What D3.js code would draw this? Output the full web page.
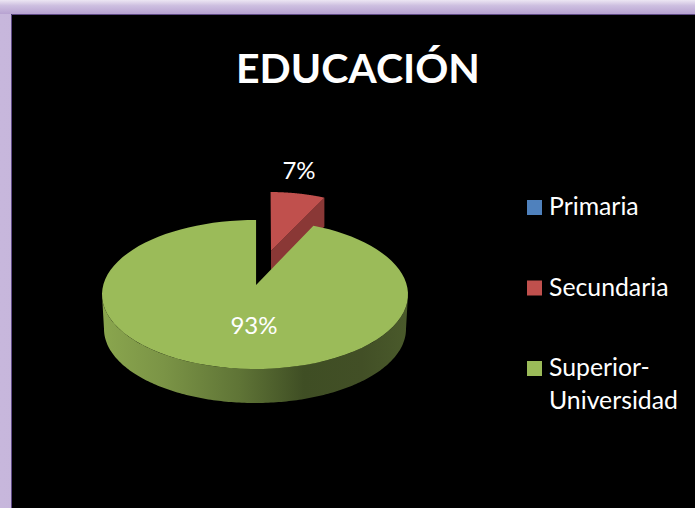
<!DOCTYPE html>
<html><head><meta charset="utf-8">
<script src="https://cdn.jsdelivr.net/npm/d3@7"></script>
<style>html,body{margin:0;padding:0;background:#000;overflow:hidden}svg{display:block}text{font-family:Lato,"Open Sans",sans-serif;fill:#fff}</style>
</head><body><svg id="c" width="695" height="508"></svg>
<script>
const chartTitle = "EDUCACIÓN";
const categories = ["Primaria", "Secundaria", "Superior-Universidad"];
const legendLines = [["Primaria"], ["Secundaria"], ["Superior-", "Universidad"]];
const values = [0, 7, 93];
const colors = ["#4f81bd", "#c0504d", "#9bbb59"];
const darkRed = "#8a3836";

const svg = d3.select("#c");
const defs = svg.append("defs");

// frame
const gTop = defs.append("linearGradient").attr("id","ft").attr("x1",0).attr("x2",0).attr("y1",0).attr("y2",1);
[[0,"#ece6f3"],[0.4,"#cdbfe0"],[1,"#b7a2d1"]].forEach(s=>gTop.append("stop").attr("offset",s[0]).attr("stop-color",s[1]));
const gLeft = defs.append("linearGradient").attr("id","fl").attr("x1",0).attr("x2",1).attr("y1",0).attr("y2",0);
[[0,"#c7b7dc"],[1,"#b49dcf"]].forEach(s=>gLeft.append("stop").attr("offset",s[0]).attr("stop-color",s[1]));
svg.append("rect").attr("width",695).attr("height",508).attr("fill","url(#fl)");
svg.append("rect").attr("width",695).attr("height",14).attr("fill","url(#ft)");
svg.append("rect").attr("x",11).attr("y",14).attr("width",684).attr("height",494).attr("fill","#000");
svg.append("path").attr("d","M11.5,508V14.5H695").attr("fill","none").attr("stroke","#5f4a86").attr("stroke-width",1);

// pie geometry
const x = d3.scaleLinear().domain([-1,1]).range([102,408]);
const y = d3.scaleLinear().domain([-1,1]).range([369,220]);
const arcs = d3.pie().sort(null).value(d=>d)(values);
const apex = {x:0.007, y:0.128};          // perspective vanishing point of the main slice
const redShift = {x0:14.5, x1:11, y:-28};
const redApex = [271,251];

// point on the rim for a true pie angle: ray from apex meets unit circle
function rim(a){
  const dx = Math.sin(a), dy = Math.cos(a);
  const A = dx*dx+dy*dy, b = apex.x*dx+apex.y*dy, c = apex.x*apex.x+apex.y*apex.y-1;
  const t = (-b+Math.sqrt(b*b-A*c))/A;
  return [apex.x+t*dx, apex.y+t*dy];
}
function rimPath(a0,a1){
  const n=90;
  return d3.range(n+1).map(i=>{const p=rim(a0+(a1-a0)*i/n); return [x(p[0]),y(p[1])];});
}
const line = d3.line();

// side of the main slice
const side = defs.append("linearGradient").attr("id","side").attr("gradientUnits","userSpaceOnUse")
  .attr("x1",x(-1)).attr("x2",x(1)).attr("y1",0).attr("y2",0);
[[0,"#8aa64e"],[0.2,"#7b9446"],[0.45,"#5f7436"],[0.66,"#3f4e24"],[0.85,"#424f26"],[1,"#4a5a2b"]]
  .forEach(s=>side.append("stop").attr("offset",s[0]).attr("stop-color",s[1]));
const xB = d3.scaleLinear().domain([-1,1]).range([104,406]);
const yB = d3.scaleLinear().domain([-1,1]).range([403,255]);
const front = d3.range(0,181).map(d=>d*Math.PI/180);
const topEdge = front.map(t=>[x(Math.cos(t)),y(-Math.sin(t))]);
const botEdge = front.map(t=>[xB(Math.cos(t)),yB(-Math.sin(t))]).reverse();

// exploded red slice
const red = arcs[1];
const redRim = rimPath(red.startAngle,red.endAngle)
  .map((p,i,all)=>[p[0]+redShift.x0+(redShift.x1-redShift.x0)*i/(all.length-1),p[1]+redShift.y]);
const rEnd = redRim[redRim.length-1];
const cutDepth = [29,19];
svg.append("path").attr("fill",darkRed)
  .attr("d",line([redApex,rEnd,[rEnd[0],rEnd[1]+cutDepth[0]],[redApex[0],redApex[1]+cutDepth[1]]])+"Z");
svg.append("path").attr("fill",colors[1]).attr("d",line([redApex,...redRim])+"Z");

// main slice
svg.append("path").attr("fill","url(#side)").attr("d",line([...topEdge,...botEdge])+"Z");
const green = arcs[2];
svg.append("path").attr("fill",colors[2])
  .attr("d",line([[x(apex.x),y(apex.y)],...rimPath(green.startAngle,green.endAngle)])+"Z");

// labels
svg.append("text").attr("x",358).attr("y",83).attr("text-anchor","middle").attr("font-size",41).attr("font-weight",700).text(chartTitle);
const valueLabel = d3.format(".0%");
const total = d3.sum(values);
svg.append("text").attr("x",299).attr("y",179).attr("text-anchor","middle").attr("font-size",24).text(valueLabel(values[1]/total));
svg.append("text").attr("x",254).attr("y",334).attr("text-anchor","middle").attr("font-size",24).text(valueLabel(values[2]/total));

// legend
const ly = d3.scalePoint().domain(categories).range([200,361]);
const lg = svg.append("g").selectAll("g").data(categories).join("g").attr("transform",d=>`translate(527,${ly(d)})`);
lg.append("rect").attr("width",15).attr("height",15).attr("fill",(d,i)=>colors[i]);
const lt = lg.append("text").attr("x",22).attr("y",15).attr("font-size",24.8);
lt.selectAll("tspan").data((d,i)=>legendLines[i]).join("tspan").attr("x",22).attr("dy",(d,i)=>i?33:0).text(d=>d);
</script></body></html>
